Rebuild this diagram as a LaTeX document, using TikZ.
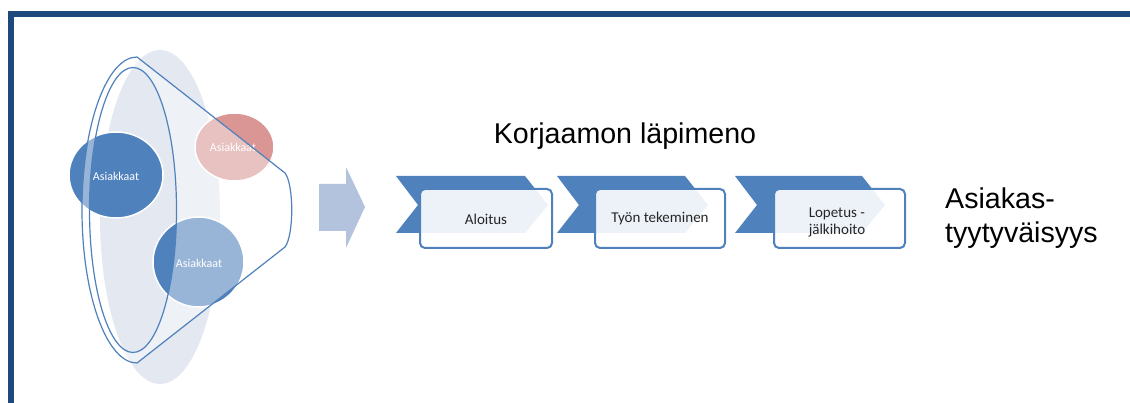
\documentclass[tikz,border=0pt]{standalone}
\usepackage{fontspec}
\setmainfont{Liberation Sans}
\newfontfamily\calib{Carlito}
\definecolor{frameblue}{HTML}{1F497D}
\definecolor{accblue}{HTML}{4F81BD}
\definecolor{bgell}{HTML}{E3E8F1}
\definecolor{pinkc}{HTML}{D99694}
\definecolor{arrowblue}{HTML}{B3C3DE}
\definecolor{txtgray}{HTML}{262626}
\tikzset{
  circlbl/.style={font=\calib\fontsize{12}{14}\selectfont, text=white},
  bubble/.style={draw=white, line width=1.5pt},
  chev/.style={fill=accblue, draw=none},
  stepbox/.style={rounded corners=5pt, draw=accblue, line width=2pt, fill=white, fill opacity=0.9},
  boxlbl/.style={font=\calib\fontsize{15}{17}\selectfont, text=txtgray, align=left},
  bigtxt/.style={font=\fontsize{28.6}{34}\selectfont, text=black, align=left},
}
\begin{document}
\begin{tikzpicture}[x=1pt,y=-1pt]
\useasboundingbox (0,0) rectangle (1130,403);
\fill[white] (0,0) rectangle (1130,403);
% frame
\fill[frameblue] (8,11) rectangle (1130,17);
\fill[frameblue] (8,11) rectangle (14,403);
% background ellipse
\fill[bgell] (160,217) ellipse [x radius=60, y radius=167];
% circles
\fill[accblue] (116,175) ellipse [x radius=47, y radius=43];
\draw[bubble] (116,175) ellipse [x radius=47, y radius=43];
\fill[pinkc] (234.5,147) ellipse [x radius=39.5, y radius=34];
\draw[bubble] (234.5,147) ellipse [x radius=39.5, y radius=34];
\fill[accblue] (198.5,262) ellipse [x radius=45.5, y radius=45];
\draw[bubble] (198.5,262) ellipse [x radius=45.5, y radius=45];
\node[circlbl] (c1) at (116,176) {Asiakkaat};
\node[circlbl] (c2) at (233,147) {Asiakkaat};
\node[circlbl] (c3) at (199,263) {Asiakkaat};
% funnel overlay
\fill[white, fill opacity=0.42, even odd rule]
  (137,57) .. controls (106.6,57) and (82,125.5) .. (82,210)
  .. controls (82,294.5) and (106.6,363) .. (137,363)
  -- (285,247) .. controls (294,235) and (294,185) .. (285,173) -- cycle
  (133,210) ellipse [x radius=43.5, y radius=142.5];
% funnel outlines
\draw[accblue, line width=1.2pt, line join=round]
  (137,57) .. controls (106.6,57) and (82,125.5) .. (82,210)
  .. controls (82,294.5) and (106.6,363) .. (137,363)
  -- (285,247) .. controls (294,235) and (294,185) .. (285,173) -- cycle;
\draw[accblue, line width=1.2pt] (133,210) ellipse [x radius=43.5, y radius=142.5];
% big arrow
\fill[arrowblue] (319,184) -- (346,184) -- (346,167) -- (365,207) -- (346,248) -- (346,231) -- (319,231) -- cycle;
% title
\node[bigtxt, anchor=base] (title) at (625,144) {Korjaamon läpimeno};
% chevrons and boxes
\fill[chev] (396,176) -- (525,176) -- (548,205) -- (525,233) -- (396,233) -- (418,205) -- cycle;
\draw[stepbox] (420,189) rectangle (552,248);
\node[boxlbl] (b1) at (486,219) {Aloitus};
\fill[chev] (557,176) -- (685,176) -- (708,205) -- (685,233) -- (557,233) -- (579,205) -- cycle;
\draw[stepbox] (595,189) rectangle (725,248);
\node[boxlbl] (b2) at (660,219) {Työn tekeminen};
\fill[chev] (735,176) -- (862,176) -- (885,205) -- (862,233) -- (735,233) -- (757,205) -- cycle;
\draw[stepbox] (774,189) rectangle (905,248);
\node[boxlbl] (b3) at (837,222) {Lopetus -\\jälkihoito};
% right text
\node[bigtxt, anchor=north west, inner sep=0pt] (sat) at (945,188) {Asiakas-\\tyytyväisyys};
\end{tikzpicture}
\end{document}
